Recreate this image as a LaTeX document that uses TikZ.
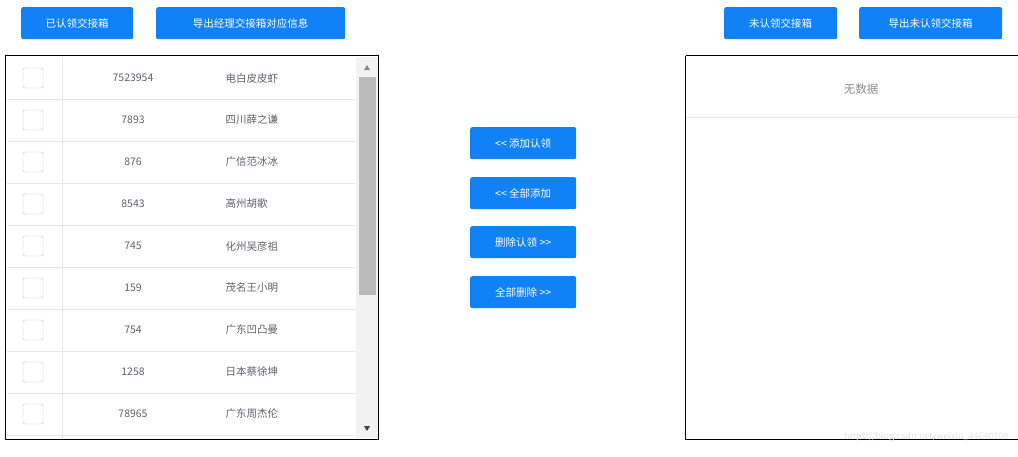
\documentclass[tikz,border=0pt]{standalone}
\usepackage{fontspec}
\setmainfont{Noto Sans CJK SC}
\definecolor{btn}{HTML}{1181F7}
\definecolor{txt}{HTML}{606266}
\definecolor{ln}{HTML}{E6E6E6}
\begin{document}
\begin{tikzpicture}[x=1pt,y=-1pt,
  bbtn/.style={fill=btn,rounded corners=2pt,text=white,font=\fontsize{10.5}{12}\selectfont,inner sep=0pt,anchor=north west},
  cell/.style={text=txt,font=\fontsize{10.5}{12}\selectfont},
  chk/.style={draw=black!25,rounded corners=1.5pt,minimum size=20pt,inner sep=0pt}]
\useasboundingbox (0,0) rectangle (1018,456);
\node[bbtn,minimum width=112pt,minimum height=32pt] (b1) at (21,7) {已认领交接箱};
\node[bbtn,minimum width=189pt,minimum height=32pt] (b2) at (156,7) {导出经理交接箱对应信息};
\node[bbtn,minimum width=113pt,minimum height=32pt] (b3) at (724,7) {未认领交接箱};
\node[bbtn,minimum width=143pt,minimum height=32pt] (b4) at (859,7) {导出未认领交接箱};
% left table
\draw[ln] (62,57) -- (62,438);
\foreach \n/\nm [count=\i from 0] in {7523954/电白皮皮虾,7893/四川薛之谦,876/广信范冰冰,8543/高州胡歌,745/化州吴彦祖,159/茂名王小明,754/广东凹凸曼,1258/日本蔡徐坤,78965/广东周杰伦}{
  \pgfmathsetmacro\yy{78+42*\i}
  \node[chk] (c\i) at (33,\yy) {};
  \node[cell] (n\i) at (133,\yy) {\n};
  \node[cell,anchor=west] (m\i) at (222,\yy) {\nm};
  \draw[ln] (7,\yy+21) -- (355,\yy+21);
}
\fill[black!5] (356,57) rectangle (378,438);
\fill[black!27] (359,77) rectangle (376,295);
\fill[black!45] (364,70) -- (370,70) -- (367,65) -- cycle;
\fill[black!75] (364,426) -- (370,426) -- (367,431) -- cycle;
\draw[black] (5.5,55.5) rectangle (378.5,439.5);
% middle buttons
\node[bbtn,minimum width=106pt,minimum height=32pt] (m1) at (470,127) {<{}< 添加认领};
\node[bbtn,minimum width=106pt,minimum height=32pt] (m2) at (470,177) {<{}< 全部添加};
\node[bbtn,minimum width=106pt,minimum height=32pt] (m3) at (470,226) {删除认领 >{}>};
\node[bbtn,minimum width=106pt,minimum height=32pt] (m4) at (470,276) {全部删除 >{}>};
% right table
\draw[black] (685.5,55.5) -- (1018,55.5) (685.5,55.5) -- (685.5,439.5) -- (1018,439.5);
\draw[ln] (686,117) -- (1018,117);
\node[text=black!45,font=\fontsize{11.5}{13}\selectfont] (nd) at (861,89) {无数据};
\node[text=black!12,font=\fontsize{9}{10}\selectfont,anchor=east] (wm) at (1012,437) {https://blog.csdn.net/weixin\_44640108};
\end{tikzpicture}
\end{document}
